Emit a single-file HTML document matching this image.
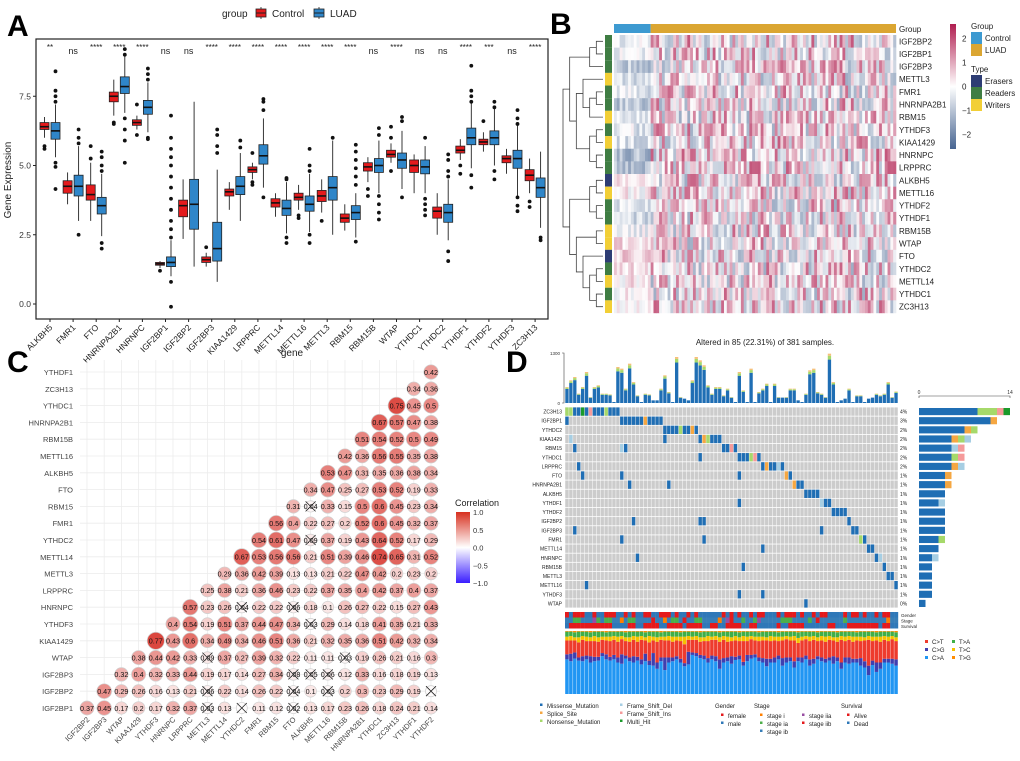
<!DOCTYPE html>
<html><head><meta charset="utf-8">
<style>
html,body{margin:0;padding:0;background:#fff;}
svg{display:block;font-family:"Liberation Sans",Arial,sans-serif;}
</style></head>
<body>
<svg id="fig" width="1020" height="761" viewBox="0 0 1020 761" xmlns="http://www.w3.org/2000/svg">
<rect width="1020" height="761" fill="#fff"/>
<g id="pa"></g>
<g id="pb"></g>
<g id="pc"></g>
<g id="pd"></g>
</svg>
<script>
// ---------------- Panel A data ----------------
const aGenes=["ALKBH5","FMR1","FTO","HNRNPA2B1","HNRNPC","IGF2BP1","IGF2BP2","IGF2BP3","KIAA1429","LRPPRC","METTL14","METTL16","METTL3","RBM15","RBM15B","WTAP","YTHDC1","YTHDC2","YTHDF1","YTHDF2","YTHDF3","ZC3H13"];
// [whiskerLow, q1, median, q3, whiskerHigh]
const aControl=[[6.0,6.3,6.4,6.55,6.75],[3.6,4.0,4.25,4.45,4.75],[3.0,3.75,3.95,4.3,5.1],[6.8,7.3,7.5,7.65,8.1],[6.3,6.45,6.55,6.65,6.8],[1.3,1.4,1.45,1.5,1.55],[2.35,3.15,3.55,3.75,4.5],[1.35,1.5,1.6,1.7,1.85],[3.4,3.9,4.05,4.15,4.4],[4.5,4.75,4.85,4.95,5.1],[3.15,3.5,3.65,3.8,4.0],[3.4,3.75,3.85,4.0,4.3],[3.3,3.7,3.9,4.1,4.5],[2.65,2.95,3.1,3.25,3.6],[4.4,4.8,4.95,5.1,5.3],[5.1,5.3,5.4,5.55,5.8],[4.0,4.75,5.0,5.2,5.4],[2.5,3.1,3.35,3.5,4.0],[5.2,5.45,5.55,5.7,5.95],[5.5,5.75,5.85,5.95,6.2],[4.7,5.1,5.25,5.35,5.6],[4.0,4.45,4.65,4.85,5.25]];
const aLuad=[[5.3,5.95,6.25,6.55,7.2],[3.0,3.9,4.25,4.65,5.7],[2.45,3.25,3.55,3.85,4.7],[6.9,7.6,7.85,8.2,9.0],[6.2,6.85,7.1,7.35,8.0],[1.0,1.35,1.5,1.7,2.3],[1.35,2.7,3.6,4.5,7.3],[0.8,1.55,2.0,2.95,4.85],[3.0,3.95,4.25,4.6,5.45],[4.2,5.05,5.35,5.75,6.7],[2.55,3.2,3.45,3.75,4.4],[2.6,3.35,3.6,3.9,4.7],[2.5,3.75,4.2,4.6,5.9],[2.4,3.05,3.3,3.55,4.0],[4.0,4.75,5.0,5.25,5.9],[4.15,4.9,5.2,5.45,6.25],[4.0,4.7,4.95,5.2,5.7],[2.3,2.95,3.3,3.6,4.5],[4.9,5.75,6.0,6.35,7.3],[5.0,5.75,6.0,6.25,7.1],[3.9,4.9,5.25,5.55,6.5],[2.75,3.85,4.2,4.55,5.5]];
const aCtrlOut=[[5.7,5.6],[],[5.7,5.25],[6.55,6.5],[7.2,6.1],[1.2],[],[2.05],[],[4.4,4.3,5.45],[],[3.1,3.2],[3.0],[],[4.15,3.9],[6.4,6.0,4.8],[],[],[5.0,4.7],[6.6],[],[3.7,3.5]];
const aLuadOut=[[8.4,7.7,7.5,7.3,5.1,4.95,4.15],[6.3,6.0,5.8,2.5],[5.5,5.3,5.0,4.8,2.2,2.0],[9.2,9.0,6.7,6.3,5.9,5.1],[8.5,8.3,8.1,6.0,5.95],[6.8,6.0,5.6,5.3,5.0,4.6,4.2,3.8,3.4,3.0,2.7,2.4,0.8,-0.1],[],[6.3,6.1,5.7,5.45],[5.9,5.65],[7.4,7.3,7.0,3.85],[4.55,4.5,2.4,2.2],[5.6,5.0,4.8,2.5,2.2],[6.0],[5.75,5.5,5.2,4.9,4.6,4.3,2.25],[6.35,6.1,3.9,3.6,3.3,3.05],[6.75,6.6,3.85],[6.0,3.8,3.6,3.4,3.2],[5.4,5.2,4.8,4.6,1.9,1.55],[8.6,7.7,7.5,7.3,4.65,4.2],[7.3,7.1,4.8,4.5],[7.0,6.7,6.5,3.85,3.55,3.35],[2.4,2.3]];
const aSig=["**","ns","****","****","****","ns","ns","****","****","****","****","****","****","****","ns","****","ns","ns","****","***","ns","****"];
const aTicks=[0,2.5,5,7.5];

// ---------------- Panel B data ----------------
const bGenes=["IGF2BP2","IGF2BP1","IGF2BP3","METTL3","FMR1","HNRNPA2B1","RBM15","YTHDF3","KIAA1429","HNRNPC","LRPPRC","ALKBH5","METTL16","YTHDF2","YTHDF1","RBM15B","WTAP","FTO","YTHDC2","METTL14","YTHDC1","ZC3H13"];
const bType=["R","R","R","W","R","R","W","R","W","R","R","E","W","R","R","W","W","E","R","W","R","W"];
const bCtrlMean=[-0.3,-0.4,-0.9,-0.5,-0.4,-0.9,-0.5,-0.4,-0.6,-1.1,-1.0,0.2,0.1,-0.4,-0.7,-0.2,0.3,0.5,0.2,0.2,0.1,0.3];
const bLuadMean=[0.35,0.3,0.3,0.25,0.25,0.3,0.2,0.25,0.3,0.35,0.35,0.2,0.2,0.2,0.25,0.2,0.2,0.25,0.2,0.25,0.25,0.35];
const bColTicks=[2,1,0,-1,-2];

// ---------------- Panel C data ----------------
const cRows=["IGF2BP1","IGF2BP2","IGF2BP3","WTAP","KIAA1429","YTHDF3","HNRNPC","LRPPRC","METTL3","METTL14","YTHDC2","FMR1","RBM15","FTO","ALKBH5","METTL16","RBM15B","HNRNPA2B1","YTHDC1","ZC3H13","YTHDF1"];
const cCols=["IGF2BP2","IGF2BP3","WTAP","KIAA1429","YTHDF3","HNRNPC","LRPPRC","METTL3","METTL14","YTHDC2","FMR1","RBM15","FTO","ALKBH5","METTL16","RBM15B","HNRNPA2B1","YTHDC1","ZC3H13","YTHDF1","YTHDF2"];
const cVals=[
[0.37,0.45,0.17,0.2,0.17,0.32,0.37,0.03,0.13,0.01,0.11,0.12,0.02,0.13,0.17,0.23,0.26,0.18,0.24,0.21,0.14],
[0.47,0.29,0.26,0.16,0.13,0.21,0.06,0.22,0.14,0.26,0.22,0.04,0.1,0.03,0.2,0.3,0.23,0.29,0.19,0.01],
[0.32,0.4,0.32,0.33,0.44,0.19,0.17,0.14,0.27,0.34,0.08,0.05,0.06,0.12,0.33,0.16,0.18,0.19,0.13],
[0.38,0.44,0.42,0.33,0.09,0.37,0.27,0.39,0.32,0.22,0.11,0.11,0.03,0.19,0.26,0.21,0.16,0.3],
[0.77,0.43,0.6,0.34,0.49,0.34,0.46,0.51,0.36,0.21,0.32,0.35,0.36,0.51,0.42,0.32,0.34],
[0.4,0.54,0.19,0.51,0.37,0.44,0.47,0.34,0.03,0.29,0.14,0.18,0.41,0.35,0.21,0.33],
[0.57,0.23,0.26,0.04,0.22,0.22,0.06,0.18,0.1,0.26,0.27,0.22,0.15,0.27,0.43],
[0.25,0.38,0.21,0.36,0.46,0.23,0.22,0.37,0.35,0.4,0.42,0.37,0.4,0.37],
[0.29,0.36,0.42,0.39,0.13,0.13,0.21,0.22,0.47,0.42,0.2,0.23,0.2],
[0.67,0.53,0.56,0.56,0.21,0.51,0.39,0.46,0.74,0.65,0.31,0.52],
[0.54,0.61,0.47,0.09,0.37,0.19,0.43,0.64,0.52,0.17,0.29],
[0.56,0.4,0.22,0.27,0.2,0.52,0.6,0.45,0.32,0.37],
[0.31,0.04,0.33,0.15,0.5,0.6,0.45,0.23,0.34],
[0.34,0.47,0.25,0.27,0.53,0.52,0.19,0.33],
[0.53,0.47,0.31,0.35,0.36,0.38,0.34],
[0.42,0.36,0.56,0.55,0.35,0.38],
[0.51,0.54,0.52,0.5,0.49],
[0.67,0.57,0.47,0.38],
[0.75,0.45,0.5],
[0.34,0.36],
[0.42]];
const cLegendTicks=[1.0,0.5,0.0,-0.5,-1.0];

// ---------------- Panel D data ----------------
const dGenes=["ZC3H13","IGF2BP1","YTHDC2","KIAA1429","RBM15","YTHDC1","LRPPRC","FTO","HNRNPA2B1","ALKBH5","YTHDF1","YTHDF2","IGF2BP2","IGF2BP3","FMR1","METTL14","HNRNPC","RBM15B","METTL3","METTL16","YTHDF3","WTAP"];
const dPct=["4%","3%","2%","2%","2%","2%","2%","1%","1%","1%","1%","1%","1%","1%","1%","1%","1%","1%","1%","1%","1%","0%"];
// mutation calls: [geneIndex, sampleIndex, type]  M=missense S=splice N=nonsense D=fs_del I=fs_ins H=multi
const dMut=[[0,0,"N"],[0,1,"N"],[0,2,"M"],[0,3,"M"],[0,4,"H"],[0,5,"M"],[0,6,"I"],[0,7,"M"],[0,8,"M"],[0,9,"M"],[0,10,"N"],[0,11,"M"],[0,12,"M"],[0,13,"M"],
[1,0,"M"],[1,14,"M"],[1,15,"M"],[1,16,"M"],[1,17,"M"],[1,18,"M"],[1,19,"M"],[1,20,"S"],[1,21,"M"],[1,22,"M"],[1,23,"M"],[1,24,"M"],
[2,25,"M"],[2,26,"M"],[2,27,"M"],[2,28,"M"],[2,29,"N"],[2,30,"M"],[2,31,"M"],[2,32,"S"],[2,33,"M"],
[3,1,"D"],[3,25,"M"],[3,34,"M"],[3,35,"S"],[3,36,"N"],[3,37,"M"],[3,38,"M"],[3,39,"M"],
[4,2,"M"],[4,14,"D"],[4,15,"M"],[4,40,"M"],[4,41,"M"],[4,42,"I"],[4,43,"M"],
[5,34,"M"],[5,44,"M"],[5,45,"M"],[5,46,"M"],[5,47,"N"],[5,48,"I"],[5,49,"M"],
[6,3,"M"],[6,50,"M"],[6,51,"S"],[6,52,"M"],[6,53,"M"],[6,54,"D"],[6,55,"M"],
[7,4,"M"],[7,14,"M"],[7,44,"M"],[7,56,"S"],[7,57,"M"],
[8,16,"M"],[8,26,"M"],[8,58,"S"],[8,59,"M"],[8,60,"M"],
[9,61,"M"],[9,62,"M"],[9,63,"M"],[9,64,"M"],
[10,44,"M"],[10,65,"D"],[10,66,"M"],[10,67,"M"],
[11,68,"M"],[11,69,"M"],[11,70,"M"],[11,71,"M"],
[12,17,"M"],[12,34,"M"],[12,35,"M"],[12,72,"M"],
[13,2,"M"],[13,65,"M"],[13,73,"M"],[13,74,"M"],
[14,14,"M"],[14,35,"M"],[14,75,"N"],[14,76,"M"],
[15,50,"M"],[15,77,"M"],[15,78,"M"],
[16,18,"M"],[16,79,"M"],[16,80,"D"],
[17,45,"M"],[17,81,"M"],
[18,82,"M"],[18,83,"M"],
[19,5,"M"],[19,84,"M"],
[20,44,"M"],[20,50,"M"],
[21,61,"M"]];
const dTmb=[416,590,676,243,416,806,156,416,460,243,243,225,26,936,893,373,1023,546,200,26,243,225,69,69,373,720,286,26,1196,156,113,69,590,1196,1110,980,460,243,416,416,200,373,156,26,806,330,26,893,26,286,373,503,26,503,156,140,156,373,373,69,26,243,850,893,286,243,156,1283,546,26,69,113,373,26,200,200,26,113,140,243,200,243,546,156,300];
const dTmbTicks=[0,1300];
// right bar: per-gene counts per type
const dCntM=[9,11,7,5,5,5,5,4,4,4,3,4,4,4,3,3,2,2,2,2,2,1];
const dCntS=[0,1,1,1,0,0,1,1,1,0,0,0,0,0,0,0,0,0,0,0,0,0];
const dCntN=[3,0,1,1,0,1,0,0,0,0,0,0,0,0,1,0,0,0,0,0,0,0];
const dCntD=[0,0,0,1,1,0,1,0,0,0,1,0,0,0,0,0,1,0,0,0,0,0];
const dCntI=[1,0,0,0,1,1,0,0,0,0,0,0,0,0,0,0,0,0,0,0,0,0];
const dCntH=[1,0,0,0,0,0,0,0,0,0,0,0,0,0,0,0,0,0,0,0,0,0];
const dCntTicks=[0,14];
const dGender="fmfffmmfmmfffmmfmfmmffmmfffmfmmfmfmmmmmmfmfmfmmfmffmmmfmfffmfmmfmffmmmmfmffmfmmfmffmmfm";
const dStage ="bbaabbb2abaabb1baabbbb2bb1baab2bbaabbbb1b22bbabba2bbbbbaaabbbbab2bbbbbbabbbbbbbbbb1bb";
const dSurv  ="DAAAAAAAAAAADDDDAADDAAAADDAAAADAAAADDAADDAAAADDAADDDDDADDAAAADDDDDDAADDDAAAAAAAADAADD";
const dTitvCA=[0.55,0.52,0.56,0.53,0.52,0.55,0.5,0.52,0.53,0.6,0.55,0.53,0.55,0.5,0.48,0.56,0.52,0.5,0.53,0.47,0.52,0.46,0.45,0.4,0.52,0.38,0.5,0.52,0.55,0.5,0.44,0.47,0.62,0.6,0.57,0.55,0.5,0.55,0.52,0.4,0.5,0.52,0.48,0.54,0.55,0.45,0.52,0.56,0.58,0.52,0.5,0.44,0.5,0.5,0.55,0.45,0.5,0.52,0.42,0.52,0.5,0.55,0.45,0.48,0.55,0.52,0.5,0.53,0.48,0.52,0.4,0.5,0.48,0.5,0.5,0.45,0.42,0.3,0.46,0.35,0.4,0.5,0.5,0.48,0.45];
const dTitvCG=[0.08,0.12,0.1,0.05,0.08,0.06,0.1,0.07,0.06,0.05,0.08,0.06,0.07,0.08,0.15,0.05,0.06,0.1,0.06,0.08,0.12,0.07,0.2,0.1,0.06,0.2,0.08,0.06,0.05,0.06,0.05,0.2,0.04,0.05,0.05,0.06,0.07,0.06,0.08,0.15,0.07,0.06,0.12,0.05,0.06,0.06,0.1,0.06,0.05,0.06,0.07,0.12,0.06,0.08,0.06,0.12,0.08,0.06,0.1,0.06,0.08,0.06,0.1,0.08,0.05,0.06,0.06,0.05,0.12,0.06,0.1,0.08,0.1,0.06,0.06,0.12,0.1,0.15,0.07,0.15,0.1,0.06,0.06,0.08,0.1];
const dTitvTC=[0.06,0.07,0.05,0.08,0.06,0.07,0.06,0.08,0.07,0.05,0.06,0.07,0.06,0.08,0.05,0.06,0.07,0.06,0.08,0.06,0.05,0.1,0.06,0.07,0.05,0.06,0.07,0.08,0.06,0.07,0.12,0.06,0.05,0.06,0.07,0.06,0.08,0.05,0.06,0.07,0.06,0.08,0.06,0.07,0.06,0.08,0.07,0.05,0.06,0.07,0.06,0.05,0.08,0.06,0.07,0.06,0.05,0.06,0.07,0.08,0.06,0.05,0.07,0.06,0.06,0.07,0.08,0.06,0.05,0.07,0.06,0.07,0.06,0.08,0.06,0.07,0.05,0.06,0.07,0.06,0.08,0.06,0.07,0.05,0.06];
const dTitvTA=[0.08,0.07,0.08,0.09,0.07,0.08,0.08,0.07,0.09,0.08,0.07,0.08,0.07,0.08,0.07,0.08,0.09,0.07,0.08,0.07,0.08,0.07,0.08,0.09,0.07,0.08,0.07,0.08,0.08,0.07,0.08,0.07,0.08,0.07,0.08,0.09,0.07,0.08,0.07,0.08,0.07,0.08,0.09,0.07,0.08,0.07,0.08,0.07,0.08,0.07,0.08,0.09,0.07,0.08,0.07,0.08,0.07,0.08,0.07,0.09,0.08,0.07,0.08,0.07,0.08,0.07,0.08,0.07,0.09,0.08,0.07,0.08,0.07,0.08,0.07,0.08,0.09,0.07,0.08,0.07,0.08,0.07,0.08,0.07,0.08];
const dTitvTG=[0.01,0.01,0.02,0.01,0.01,0.01,0.02,0.01,0.01,0.01,0.02,0.01,0.01,0.01,0.01,0.02,0.01,0.01,0.01,0.01,0.02,0.01,0.01,0.01,0.02,0.01,0.01,0.01,0.01,0.02,0.01,0.01,0.01,0.01,0.02,0.01,0.01,0.01,0.01,0.02,0.01,0.01,0.01,0.01,0.02,0.01,0.01,0.01,0.01,0.02,0.01,0.01,0.01,0.01,0.02,0.01,0.01,0.01,0.01,0.02,0.01,0.01,0.01,0.01,0.02,0.01,0.01,0.01,0.01,0.02,0.01,0.01,0.01,0.01,0.02,0.01,0.01,0.01,0.01,0.02,0.01,0.01,0.01,0.01,0.02];

// ---------------- helpers ----------------
const NS="http://www.w3.org/2000/svg";
function mk(parent,tag,attrs,txt){const e=document.createElementNS(NS,tag);for(const k in attrs)e.setAttribute(k,attrs[k]);if(txt!==undefined)e.textContent=txt;parent.appendChild(e);return e;}
function named(e,name,inter){return e;}

// ================= PANEL A =================
(function(){
const g=document.getElementById('pa');
const t=mk(g,'text',{x:7,y:36,'font-size':30,'font-weight':'bold'},'A');


const x0=36,x1=548,y0=39,y1=319;
const ys=v=>304-v*27.7;
const xs=i=>50+i*23.1;
const frame=mk(g,'rect',{x:x0,y:y0,width:x1-x0,height:y1-y0,fill:'none',stroke:'#222','stroke-width':1.2});


// legend
let l=mk(g,'text',{x:222,y:17,'font-size':10,fill:'#222'},'group');


[['Control','#e41a1c',256],['LUAD','#2f86c9',314]].forEach(([n,c,x])=>{
  const lg=mk(g,'g',{});
  
  
  mk(lg,'line',{x1:x+5,x2:x+5,y1:7,y2:19,stroke:'#222','stroke-width':0.8});
  mk(lg,'rect',{x:x,y:9,width:10,height:8,fill:c,stroke:'#222','stroke-width':0.8});
  mk(lg,'line',{x1:x,x2:x+10,y1:13,y2:13,stroke:'#222','stroke-width':1});
  mk(lg,'text',{x:x+16,y:17,'font-size':10,fill:'#222'},n);
});
// y axis
aTicks.forEach(v=>{
  const tk=mk(g,'g',{});
  
  
  mk(tk,'line',{x1:x0-3,x2:x0,y1:ys(v),y2:ys(v),stroke:'#222'});
  mk(tk,'text',{x:x0-5,y:ys(v)+3,'font-size':8.5,'text-anchor':'end',fill:'#333'},v.toFixed(1));
});
const yt=mk(g,'text',{x:11,y:180,'font-size':10,'text-anchor':'middle',fill:'#222',transform:'rotate(-90 11 180)'},'Gene Expression');


function box(par,cx,d,col,outs,name){
  const bg=mk(par,'g',{});
  
  
  mk(bg,'line',{x1:cx,x2:cx,y1:ys(d[0]),y2:ys(d[4]),stroke:'#222','stroke-width':0.9});
  mk(bg,'rect',{x:cx-4.5,y:ys(d[3]),width:9,height:ys(d[1])-ys(d[3]),fill:col,stroke:'#222','stroke-width':0.8});
  mk(bg,'line',{x1:cx-4.5,x2:cx+4.5,y1:ys(d[2]),y2:ys(d[2]),stroke:'#111','stroke-width':1.6});
  outs.forEach(o=>mk(bg,'circle',{cx:cx,cy:ys(o),r:1.9,fill:'#111'}));
}
aGenes.forEach((gn,i)=>{
  const cx=xs(i);
  box(g,cx-5.5,aControl[i],'#e41a1c',aCtrlOut[i],'box-control-'+gn.toLowerCase());
  box(g,cx+5.5,aLuad[i],'#2f86c9',aLuadOut[i],'box-luad-'+gn.toLowerCase());
  const s=mk(g,'text',{x:cx,y:aSig[i]==='ns'?54:50,'font-size':aSig[i]==='ns'?9:8,'text-anchor':'middle',fill:'#222'},aSig[i]);
  
  
  mk(g,'line',{x1:cx,x2:cx,y1:y1,y2:y1+3,stroke:'#222'});
  const lb=mk(g,'text',{x:cx+3,y:y1+9,'font-size':8.5,'text-anchor':'end',fill:'#222',transform:`rotate(-45 ${cx+3} ${y1+9})`},gn);
  
  
});
})();

// ================= PANEL B =================
(function(){
const g=document.getElementById('pb');
const t=mk(g,'text',{x:550,y:34,'font-size':30,'font-weight':'bold'},'B');


const hx0=614,hx1=896,hy0=35,hy1=313,nc=100,nCtrl=13;
const rh=(hy1-hy0)/bGenes.length, cw=(hx1-hx0)/nc;
// group bar
let gb=mk(g,'rect',{x:hx0,y:24,width:nCtrl*cw,height:9,fill:'#3d9ad1'});


gb=mk(g,'rect',{x:hx0+nCtrl*cw,y:24,width:(nc-nCtrl)*cw,height:9,fill:'#dba632'});


let gl=mk(g,'text',{x:899,y:32,'font-size':8,fill:'#222'},'Group');


function col(v){v=Math.max(-2.6,Math.min(2.6,v));
  let r,gg,b;
  if(v>=0){const f=v/2.6;r=255+(176-255)*f;gg=255+(30-255)*f;b=255+(80-255)*f;}
  else{const f=-v/2.6;r=255+(70-255)*f;gg=255+(100-255)*f;b=255+(145-255)*f;}
  return `rgb(${r|0},${gg|0},${b|0})`;}
function tex(i,j){let h=(i*374761393+j*668265263)^0x5bd1e995;h=(h^(h>>>13))*1274126177;h=h^(h>>>16);return ((h>>>0)%1000)/1000*2-1;}
const hm=mk(g,'g',{});


const tc={E:'#2e3d74',R:'#3f7d43',W:'#f2cf36'};
bGenes.forEach((gn,i)=>{
  const y=hy0+i*rh;
  for(let j=0;j<nc;j++){
    const base=j<nCtrl?bCtrlMean[i]:bLuadMean[i];
    const amp=j<nCtrl?0.6:1.6;
    mk(hm,'rect',{x:(hx0+j*cw).toFixed(2),y:y.toFixed(2),width:(cw+0.3).toFixed(2),height:(rh+0.2).toFixed(2),fill:col(base+amp*tex(i,j))});
  }
  const tr=mk(g,'rect',{x:605,y:y,width:7,height:rh,fill:tc[bType[i]]});
  
  
  const lb=mk(g,'text',{x:899,y:y+rh/2+3,'font-size':8,fill:'#222'},gn);
  
  
});
// dendrogram
const tree=[[[[0,1],2],[[3,[[4,5],6]],[[7,8],[9,10]]]],[[[11,12],[13,14]],[[15,16],[17,[[18,19],[20,21]]]]]];
const dg=mk(g,'g',{});


function depth(n){return Array.isArray(n)?1+Math.max(depth(n[0]),depth(n[1])):0;}
const maxD=depth(tree);
function draw(n){ if(!Array.isArray(n))return {y:hy0+(n+0.5)*rh,x:603};
  const a=draw(n[0]),b=draw(n[1]);const x=603-depth(n)/maxD*40;
  mk(dg,'path',{d:`M${a.x},${a.y}H${x}V${b.y}H${b.x}`,fill:'none',stroke:'#444','stroke-width':0.8});
  return {y:(a.y+b.y)/2,x:x};}
draw(tree);
// color legend
const defs=mk(g,'defs',{});
const lgd=mk(defs,'linearGradient',{id:'bgrad',x1:0,y1:0,x2:0,y2:1});
[['0','rgb(176,30,80)'],['0.5','#fff'],['1','rgb(70,100,145)']].forEach(([o,c])=>mk(lgd,'stop',{offset:o,'stop-color':c}));
const cb=mk(g,'rect',{x:950,y:24,width:6,height:125,fill:'url(#bgrad)'});


bColTicks.forEach(v=>{const y=24+ (2.6-v)/5.2*125;mk(g,'text',{x:962,y:y+3,'font-size':8,fill:'#222'},v===0?'0':(v<0?'−'+(-v):''+v));});
mk(g,'text',{x:971,y:29,'font-size':8,fill:'#222'},'Group');
[['Control','#3d9ad1',32],['LUAD','#dba632',44]].forEach(([n,c,y])=>{const e=mk(g,'g',{});mk(e,'rect',{x:971,y:y,width:11,height:12,fill:c});mk(e,'text',{x:985,y:y+9,'font-size':8,fill:'#222'},n);});
mk(g,'text',{x:971,y:72,'font-size':8,fill:'#222'},'Type');
[['Erasers','#2e3d74',75],['Readers','#3f7d43',87],['Writers','#f2cf36',99]].forEach(([n,c,y])=>{const e=mk(g,'g',{});mk(e,'rect',{x:971,y:y,width:11,height:12,fill:c});mk(e,'text',{x:985,y:y+9,'font-size':8,fill:'#222'},n);});
})();

// ================= PANEL C =================
(function(){
const g=document.getElementById('pc');
const t=mk(g,'text',{x:7,y:372,'font-size':30,'font-weight':'bold'},'C');


const cx0=87,cstep=17.2,ry0=708,rstep=16.8;
const xs=j=>cx0+j*cstep, ys=i=>ry0-i*rstep;
const tt=mk(g,'text',{x:292,y:356,'font-size':10,'text-anchor':'middle',fill:'#222'},'gene');


cCols.forEach((c,j)=>mk(g,'line',{x1:xs(j),x2:xs(j),y1:360,y2:716,stroke:'#ececec','stroke-width':0.8}));
cRows.forEach((r,i)=>mk(g,'line',{x1:80,x2:440,y1:ys(i),y2:ys(i),stroke:'#ececec','stroke-width':0.8}));
function col(v){const f=Math.max(0,Math.min(1,v));const r=255+(215-255)*f,gg=255+(48-255)*f,b=255+(39-255)*f;return `rgb(${r|0},${gg|0},${b|0})`;}
cRows.forEach((r,i)=>{
  const lb=mk(g,'text',{x:73,y:ys(i)+3,'font-size':7.5,'text-anchor':'end',fill:'#444'},r);
  
  
  cVals[i].forEach((v,k)=>{
    const j=i+k, x=xs(j), y=ys(i);
    const cg=mk(g,'g',{});
    
    
    mk(cg,'circle',{cx:x,cy:y,r:(5.5+4*Math.abs(v)).toFixed(2),fill:col(v*1.15),stroke:'#cfcfcf','stroke-width':0.7});
    mk(cg,'text',{x:x,y:y+2.8,'font-size':7.2,'text-anchor':'middle',fill:'#111'},v===0.01?'':String(v).replace(/^0\./,'0.'));
    if(Math.abs(v)<0.095){mk(cg,'path',{d:`M${x-5},${y-5}L${x+5},${y+5}M${x+5},${y-5}L${x-5},${y+5}`,stroke:'#222','stroke-width':0.8});}
  });
});
cCols.forEach((c,j)=>{
  const x=xs(j)+3,y=720;
  const lb=mk(g,'text',{x:x,y:y,'font-size':7.5,'text-anchor':'end',fill:'#444',transform:`rotate(-45 ${x} ${y})`},c);
  
  
});
const defs=mk(g,'defs',{});
const lg=mk(defs,'linearGradient',{id:'cgrad',x1:0,y1:0,x2:0,y2:1});
[['0','#d7301f'],['0.5','#ffffff'],['1','#3a1dff']].forEach(([o,c])=>mk(lg,'stop',{offset:o,'stop-color':c}));
const lt=mk(g,'text',{x:455,y:506,'font-size':9,fill:'#222'},'Correlation');


const cb=mk(g,'rect',{x:456,y:512,width:14,height:71,fill:'url(#cgrad)'});


cLegendTicks.forEach(v=>{const y=512+(1-v)/2*71;mk(g,'text',{x:473,y:y+3,'font-size':7.5,fill:'#333'},(v<0?'−':'')+Math.abs(v).toFixed(1));});
})();

// ================= PANEL D =================
(function(){
const g=document.getElementById('pd');
const t=mk(g,'text',{x:506,y:372,'font-size':30,'font-weight':'bold'},'D');


const tt=mk(g,'text',{x:765,y:345,'font-size':8,'text-anchor':'middle',fill:'#222'},'Altered in 85 (22.31%) of 381 samples.');


const gx0=565,gx1=898,gy0=407,gy1=608,ns=85;
const cw=(gx1-gx0)/ns, rh=(gy1-gy0)/dGenes.length;
const colors={M:'#1f6eb4',S:'#f5a742',N:'#a6d96a',D:'#a6cee3',I:'#f59a9a',H:'#1a9a2a'};
// grid
const grid=mk(g,'g',{});


mk(grid,'rect',{x:gx0,y:gy0,width:gx1-gx0,height:gy1-gy0,fill:'#fff'});
for(let i=0;i<dGenes.length;i++)for(let j=0;j<ns;j++)mk(grid,'rect',{x:(gx0+j*cw+0.25).toFixed(2),y:(gy0+i*rh+0.4).toFixed(2),width:(cw-0.5).toFixed(2),height:(rh-0.8).toFixed(2),fill:'#cccccc'});
dMut.forEach(([gi,sj,ty])=>{
  const r=mk(g,'rect',{x:(gx0+sj*cw+0.25).toFixed(2),y:(gy0+gi*rh+0.4).toFixed(2),width:(cw-0.5).toFixed(2),height:(rh-0.8).toFixed(2),fill:colors[ty]});
  
  
});
dGenes.forEach((gn,i)=>{
  const y=gy0+i*rh+rh/2+2;
  const a=mk(g,'text',{x:562,y:y,'font-size':5,'text-anchor':'end',fill:'#222'},gn);
  
  
  const b=mk(g,'text',{x:900,y:y,'font-size':5,fill:'#222'},dPct[i]);
  
  
});
// TMB bars
const tyS=v=>403-v/1300*50;
mk(g,'path',{d:'M562,353H564V403H562',fill:'none',stroke:'#444','stroke-width':0.6});
dTmbTicks.forEach(v=>mk(g,'text',{x:560,y:tyS(v)+2,'font-size':4.5,'text-anchor':'end',fill:'#333'},String(v)));
const tcw=(gx1-gx0)/dTmb.length;
dTmb.forEach((v,j)=>{
  const x=gx0+j*tcw+0.3,w=tcw-0.6;
  const bg=mk(g,'g',{});
  
  
  const h=403-tyS(v);
  const top=v>150?Math.min(6,h*0.12):0;
  mk(bg,'rect',{x:x.toFixed(2),y:tyS(v)+top,width:w.toFixed(2),height:Math.max(0,h-top),fill:'#1f6eb4'});
  if(top>0){mk(bg,'rect',{x:x.toFixed(2),y:tyS(v)+top*0.35,width:w.toFixed(2),height:top*0.65,fill:'#a6d96a'});mk(bg,'rect',{x:x.toFixed(2),y:tyS(v),width:w.toFixed(2),height:top*0.35,fill:'#f5c07a'});}
});
// right count bars
const rxs=v=>919+v/14*91;
mk(g,'path',{d:'M919,398V396H1010V398',fill:'none',stroke:'#444','stroke-width':0.6});
dCntTicks.forEach(v=>mk(g,'text',{x:rxs(v),y:394,'font-size':5,'text-anchor':'middle',fill:'#333'},String(v)));
const segs=[[dCntM,'M'],[dCntS,'S'],[dCntN,'N'],[dCntD,'D'],[dCntI,'I'],[dCntH,'H']];
dGenes.forEach((gn,i)=>{
  let acc=0;
  const bg=mk(g,'g',{});
  
  
  segs.forEach(([arr,ty])=>{const v=arr[i];if(v>0){mk(bg,'rect',{x:rxs(acc).toFixed(2),y:(gy0+i*rh+1).toFixed(2),width:(rxs(acc+v)-rxs(acc)).toFixed(2),height:(rh-2).toFixed(2),fill:colors[ty]});acc+=v;}});
});
// annotation tracks
const ax0=565;const acw=(gx1-gx0)/ns;
const gc={f:'#e41a1c',m:'#2f78b8'};
const sc={'1':'#ff7f00',a:'#4daf4a',b:'#377eb8','2':'#984ea3'};
const vc={A:'#e41a1c',D:'#2f78b8'};
[[dGender,gc,612,'gender-track'],[dStage,sc,617.5,'stage-track'],[dSurv,vc,623,'survival-track']].forEach(([s,cm,y,nm])=>{
  const tg=mk(g,'g',{});
  
  
  for(let j=0;j<Math.min(ns,s.length);j++){let c=cm[s[j]];if(nm==='stage-track'&&s[j]==='2')c=(j%2?'#984ea3':'#e41a1c');mk(tg,'rect',{x:(ax0+j*acw).toFixed(2),y:y,width:(acw+0.2).toFixed(2),height:5.5,fill:c});}
});
[['Gender',617],['Stage',622.5],['Survival',628]].forEach(([n,y])=>mk(g,'text',{x:901,y:y,'font-size':4.5,fill:'#222'},n));
// titv
const ty0=631,ty1=694,th=ty1-ty0;
const tcols=[['#2196f3',dTitvCA],['#3f3fb0',dTitvCG],['#ee3b2d',null],['#f5c200',dTitvTC],['#3faf48',dTitvTA],['#ff8c00',dTitvTG]];
for(let j=0;j<ns;j++){
  const bg=mk(g,'g',{});
  
  
  const ct=1-dTitvCA[j]-dTitvCG[j]-dTitvTC[j]-dTitvTA[j]-dTitvTG[j];
  let yb=ty1;
  tcols.forEach(([c,arr])=>{const v=arr?arr[j]:ct;const h=v*th;mk(bg,'rect',{x:(gx0+j*cw+0.2).toFixed(2),y:(yb-h).toFixed(2),width:(cw-0.4).toFixed(2),height:h.toFixed(2),fill:c});yb-=h;});
}
// titv legend
[['C>T','#ee3b2d',925,645],['C>G','#3f3fb0',925,653],['C>A','#2196f3',925,661],['T>A','#3faf48',952,645],['T>C','#f5c200',952,653],['T>G','#ff8c00',952,661]].forEach(([n,c,x,y])=>{
  const e=mk(g,'g',{});
  mk(e,'rect',{x:x,y:y-5,width:3,height:3,fill:c});mk(e,'text',{x:x+7,y:y-1,'font-size':6,fill:'#222'},n);
});
// bottom legend
const leg=[['Missense_Mutation','#1f6eb4',547,708],['Splice_Site','#f5a742',547,716],['Nonsense_Mutation','#a6d96a',547,724],['Frame_Shift_Del','#a6cee3',627,708],['Frame_Shift_Ins','#f59a9a',627,716],['Multi_Hit','#1a9a2a',627,724],
['female','#e41a1c',728,718],['male','#2f78b8',728,726],['stage i','#ff7f00',767,718],['stage ia','#4daf4a',767,726],['stage ib','#377eb8',767,734],['stage iia','#984ea3',809,718],['stage iib','#e41a1c',809,726],['Alive','#e41a1c',854,718],['Dead','#2f78b8',854,726]];
leg.forEach(([n,c,x,y])=>{
  const e=mk(g,'g',{});
  
  
  mk(e,'rect',{x:x-7,y:y-4.5,width:2.5,height:2.5,fill:c});
  mk(e,'text',{x:x,y:y,'font-size':6,fill:'#222'},n);
});
[['Gender',715,708],['Stage',754,708],['Survival',841,708]].forEach(([n,x,y])=>{const e=mk(g,'text',{x:x,y:y,'font-size':6,fill:'#222'},n);});
})();
</script>
</body></html>
